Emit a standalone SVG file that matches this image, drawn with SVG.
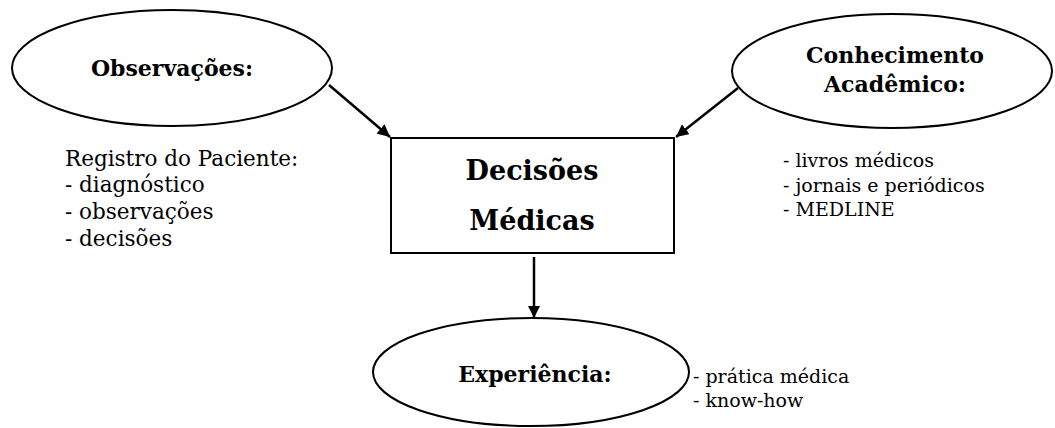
<svg xmlns="http://www.w3.org/2000/svg" width="1055" height="428" viewBox="0 0 1055 428">
<defs>
<style>
.shape{fill:#fff;stroke:#000;stroke-width:2}
.t{font-family:"DejaVu Serif","Liberation Serif",serif;fill:#000}
.b{font-weight:bold;font-size:22px}
.big{font-weight:bold;font-size:27px}
.r{font-size:19px}
.rl{font-size:21.5px}
.line{stroke:#000;stroke-width:2.5;fill:none}
</style>
<marker id="ah" viewBox="0 0 10 10" refX="10" refY="5" markerWidth="5" markerHeight="5" orient="auto" markerUnits="strokeWidth">
<path d="M0,0 L10,5 L0,10 z" fill="#000"/>
</marker>
</defs>
<rect width="1055" height="428" fill="#fff"/>
<g id="connectors">
<line class="line" x1="329" y1="85" x2="390" y2="137" marker-end="url(#ah)"/>
<line class="line" x1="738" y1="88" x2="676" y2="137" marker-end="url(#ah)"/>
<line class="line" x1="534" y1="257" x2="534" y2="318" marker-end="url(#ah)"/>
</g>
<g id="observacoes">
<ellipse class="shape" cx="172" cy="68" rx="160" ry="58"/>
<text class="t b" x="172" y="76" text-anchor="middle">Observações:</text>
</g>
<g id="registro">
<text class="t rl" x="65" y="166">Registro do Paciente:</text>
<text class="t rl" x="65" y="192">- diagnóstico</text>
<text class="t rl" x="65" y="219">- observações</text>
<text class="t rl" x="65" y="246">- decisões</text>
</g>
<g id="conhecimento">
<ellipse class="shape" cx="892" cy="71" rx="160" ry="57"/>
<text class="t b" x="895" y="63" text-anchor="middle">Conhecimento</text>
<text class="t b" x="895" y="92" text-anchor="middle">Acadêmico:</text>
</g>
<g id="fontes">
<text class="t r" x="783" y="167">- livros médicos</text>
<text class="t r" x="783" y="192">- jornais e periódicos</text>
<text class="t r" x="783" y="216">- MEDLINE</text>
</g>
<g id="decisoes">
<rect class="shape" x="391" y="138" width="283" height="115"/>
<text class="t big" x="532" y="180" text-anchor="middle">Decisões</text>
<text class="t big" x="532" y="230" text-anchor="middle">Médicas</text>
</g>
<g id="experiencia">
<ellipse class="shape" cx="531" cy="372" rx="158" ry="54"/>
<text class="t b" x="535" y="382" text-anchor="middle">Experiência:</text>
</g>
<g id="pratica">
<text class="t r" x="693" y="383">- prática médica</text>
<text class="t r" x="693" y="407">- know-how</text>
</g>
</svg>
